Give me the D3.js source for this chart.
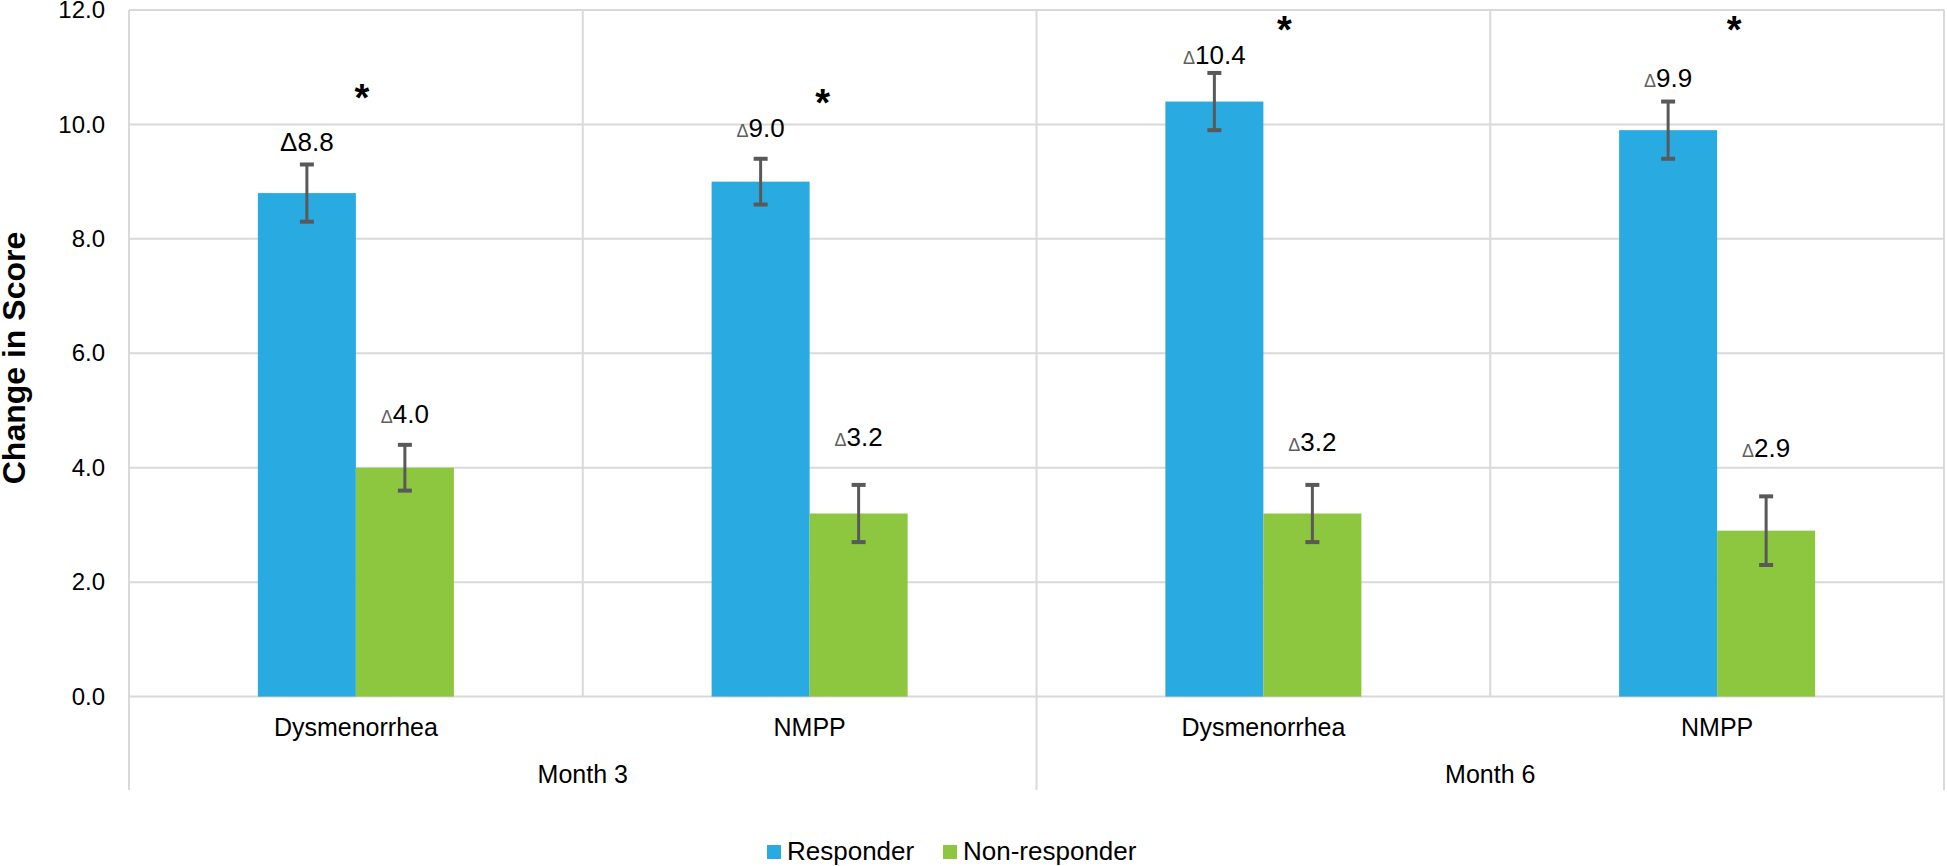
<!DOCTYPE html>
<html>
<head>
<meta charset="utf-8">
<script src="https://cdn.jsdelivr.net/npm/d3@7"></script>
<style>
  html, body { margin: 0; padding: 0; background: #fff; }
  svg text { font-family: "Liberation Sans", Arial, Helvetica, sans-serif; }
</style>
</head>
<body>
<svg id="chart" width="1947" height="866"></svg>
<script>
// ---------------- DATA ----------------
const months = ["Month 3", "Month 6"];
const categories = ["Dysmenorrhea", "NMPP", "Dysmenorrhea", "NMPP"];
const categoryMonth = ["Month 3", "Month 3", "Month 6", "Month 6"];
const series = ["Responder", "Non-responder"];
const responderValues = [8.8, 9.0, 10.4, 9.9];
const nonResponderValues = [4.0, 3.2, 3.2, 2.9];
const responderErrors = [0.5, 0.4, 0.5, 0.5];
const nonResponderErrors = [0.4, 0.5, 0.5, 0.6];
const significant = [true, true, true, true];
const yTicks = [0, 2, 4, 6, 8, 10, 12];
const yTitle = "Change in Score";

// ---------------- LAYOUT ----------------
const W = 1947, H = 866;
const plot = { left: 129, right: 1944, top: 10, bottom: 696.6 };
const colors = { "Responder": "#29abe2", "Non-responder": "#8dc63f" };
const gridColor = "#d9d9d9";
const errColor = "#595959";
// label gap (px) above error-bar cap, per bar, to mimic the hand-placed labels
const labelGap = { "Responder": [13, 22, 9, 15], "Non-responder": [22, 39, 34, 39] };
const sigLevel = [10.62, 10.53, 11.8, 11.8]; // asterisk vertical anchor, in axis units
const sigDx = [6, 13, 21, 17];

const svg = d3.select("#chart");

const keys = categories.map((c, i) => i);
const x0 = d3.scaleBand().domain(keys).range([plot.left, plot.right]).padding(0);
const x1 = d3.scaleBand().domain(series).range([0, x0.bandwidth()]).paddingInner(0).paddingOuter(1.315);
const y = d3.scaleLinear().domain([0, 12]).range([plot.bottom, plot.top]);
const xm = d3.scaleBand().domain(months).range([plot.left, plot.right]).padding(0);

// horizontal gridlines
svg.append("g").selectAll("line").data(yTicks).join("line")
  .attr("x1", plot.left).attr("x2", plot.right)
  .attr("y1", d => y(d)).attr("y2", d => y(d))
  .attr("stroke", gridColor).attr("stroke-width", 2);

// vertical gridlines at category boundaries (inside plot)
const innerBounds = keys.slice(1).map(k => x0(k)).filter(v => !months.some(m => Math.abs(xm(m) - v) < 1));
svg.append("g").selectAll("line").data(innerBounds).join("line")
  .attr("x1", d => d).attr("x2", d => d)
  .attr("y1", plot.top).attr("y2", plot.bottom)
  .attr("stroke", gridColor).attr("stroke-width", 2);

// month boundaries (extend through both label rows)
const monthBounds = months.map(m => xm(m)).concat([plot.right]);
svg.append("g").selectAll("line").data(monthBounds).join("line")
  .attr("x1", d => d).attr("x2", d => d)
  .attr("y1", plot.top).attr("y2", 790)
  .attr("stroke", gridColor).attr("stroke-width", 2);

// y axis tick labels
const yAxis = d3.axisLeft(y).tickValues(yTicks).tickFormat(d3.format(".1f")).tickSize(0).tickPadding(24);
const ya = svg.append("g").attr("transform", `translate(${plot.left},0)`).call(yAxis);
ya.select(".domain").remove();
ya.selectAll("text")
  .attr("font-size", 24).attr("fill", "#000")
  .attr("font-family", "'Liberation Sans', Arial, sans-serif");

// y title
svg.append("text")
  .attr("transform", `translate(25,358) rotate(-90)`)
  .attr("text-anchor", "middle")
  .attr("font-size", 32).attr("font-weight", "bold").attr("fill", "#000")
  .text(yTitle);

// bars
const rows = [];
keys.forEach(i => {
  rows.push({ i, s: "Responder", v: responderValues[i], e: responderErrors[i] });
  rows.push({ i, s: "Non-responder", v: nonResponderValues[i], e: nonResponderErrors[i] });
});

svg.append("g").selectAll("rect").data(rows).join("rect")
  .attr("x", d => x0(d.i) + x1(d.s))
  .attr("width", x1.bandwidth())
  .attr("y", d => y(d.v))
  .attr("height", d => y(0) - y(d.v))
  .attr("fill", d => colors[d.s]);

// error bars
const eg = svg.append("g").attr("stroke", errColor).attr("stroke-width", 3);
rows.forEach(d => {
  const cx = x0(d.i) + x1(d.s) + x1.bandwidth() / 2;
  eg.append("line").attr("x1", cx).attr("x2", cx).attr("y1", y(d.v + d.e)).attr("y2", y(d.v - d.e));
  eg.append("line").attr("x1", cx - 7).attr("x2", cx + 7).attr("y1", y(d.v + d.e)).attr("y2", y(d.v + d.e)).attr("stroke-width", 4);
  eg.append("line").attr("x1", cx - 7).attr("x2", cx + 7).attr("y1", y(d.v - d.e)).attr("y2", y(d.v - d.e)).attr("stroke-width", 4);
});

// value labels
rows.forEach((d, n) => {
  const cx = x0(d.i) + x1(d.s) + x1.bandwidth() / 2;
  const gap = labelGap[d.s][d.i];
  const t = svg.append("text")
    .attr("x", cx).attr("y", y(d.v + d.e) - gap)
    .attr("text-anchor", "middle")
    .attr("font-size", 26).attr("fill", "#000");
  if (n === 0) {
    t.text("\u0394" + d.v.toFixed(1));
  } else {
    t.append("tspan").attr("font-size", 18).attr("fill", "#5f5f5f").text("\u0394");
    t.append("tspan").text(d.v.toFixed(1));
  }
});

// significance asterisks
keys.forEach(i => {
  if (!significant[i]) return;
  const cx = x0(i) + x0.bandwidth() / 2 + sigDx[i];
  svg.append("text")
    .attr("x", cx).attr("y", y(sigLevel[i]) + 22)
    .attr("text-anchor", "middle")
    .attr("font-size", 38).attr("font-weight", "bold").attr("fill", "#000")
    .text("*");
});

// category labels
svg.append("g").selectAll("text").data(keys).join("text")
  .attr("x", d => x0(d) + x0.bandwidth() / 2)
  .attr("y", 736)
  .attr("text-anchor", "middle")
  .attr("font-size", 25).attr("fill", "#000")
  .text(d => categories[d]);

// month labels
svg.append("g").selectAll("text").data(months).join("text")
  .attr("x", d => xm(d) + xm.bandwidth() / 2)
  .attr("y", 783)
  .attr("text-anchor", "middle")
  .attr("font-size", 25).attr("fill", "#000")
  .text(d => d);

// legend
const legendX = [767, 943];
const lg = svg.append("g");
series.forEach((s, k) => {
  lg.append("rect").attr("x", legendX[k]).attr("y", 845).attr("width", 14).attr("height", 14).attr("fill", colors[s]);
  lg.append("text").attr("x", legendX[k] + 20).attr("y", 860)
    .attr("font-size", 26).attr("fill", "#000").text(s);
});
</script>
</body>
</html>
